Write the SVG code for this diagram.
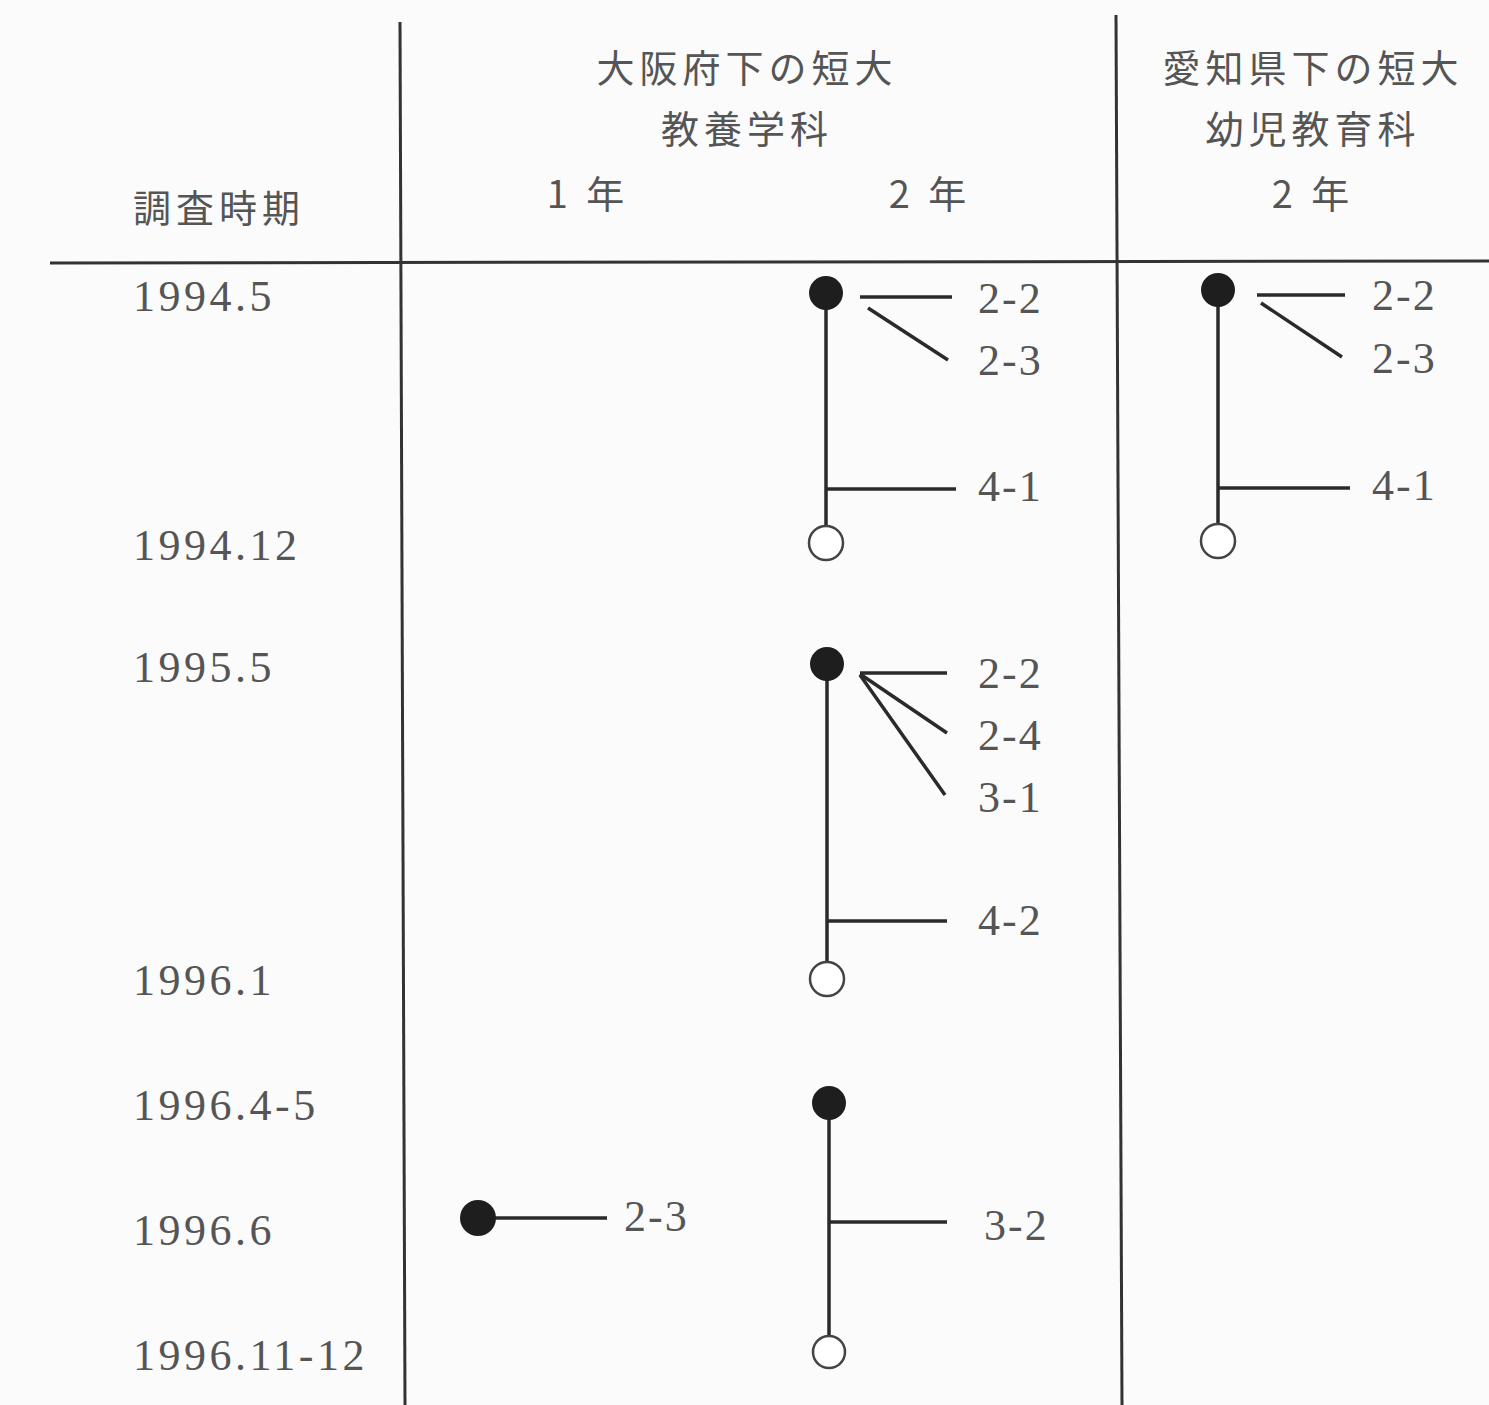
<svg xmlns="http://www.w3.org/2000/svg" width="1489" height="1405" viewBox="0 0 1489 1405">
<style>
.bg{fill:#fbfbfb}
.jp{font-family:"Noto Sans CJK JP","Liberation Serif",sans-serif;font-size:38px;fill:#555;letter-spacing:5px}
.num{font-family:"Liberation Serif","DejaVu Serif",serif;font-size:44px;fill:#555;letter-spacing:2px}
.dt{letter-spacing:3.5px}
.rule{stroke:#333;stroke-width:3;fill:none}
.ln{stroke:#2a2a2a;stroke-width:3.5;fill:none}
.on{fill:#1e1e1e}
.off{fill:#fff;stroke:#444;stroke-width:2.5}
</style>
<rect class="bg" x="0" y="0" width="1489" height="1405"/>
<g id="table">
<line class="rule" x1="50" y1="263" x2="1489" y2="261"/>
<line class="rule" x1="400" y1="22" x2="405" y2="1405"/>
<line class="rule" x1="1116" y1="15" x2="1122" y2="1405"/>
</g>
<g id="headers">
<text class="jp" x="747" y="82" text-anchor="middle">大阪府下の短大</text>
<text class="jp" x="747" y="143" text-anchor="middle">教養学科</text>
<text class="jp" x="588" y="208" text-anchor="middle">1 年</text>
<text class="jp" x="930" y="208" text-anchor="middle">2 年</text>
<text class="jp" x="133" y="222">調査時期</text>
<text class="jp" x="1313" y="82" text-anchor="middle">愛知県下の短大</text>
<text class="jp" x="1313" y="143" text-anchor="middle">幼児教育科</text>
<text class="jp" x="1313" y="208" text-anchor="middle">2 年</text>
</g>
<g id="dates">
<text class="num dt" x="133" y="311">1994.5</text>
<text class="num dt" x="133" y="560">1994.12</text>
<text class="num dt" x="133" y="682">1995.5</text>
<text class="num dt" x="133" y="995">1996.1</text>
<text class="num dt" x="133" y="1120">1996.4-5</text>
<text class="num dt" x="133" y="1245">1996.6</text>
<text class="num dt" x="133" y="1370">1996.11-12</text>
</g>
<g id="connectors">
<line class="ln" x1="826" y1="293" x2="826" y2="527"/>
<line class="ln" x1="860" y1="297" x2="952" y2="297"/>
<line class="ln" x1="868" y1="308" x2="948" y2="360"/>
<line class="ln" x1="826" y1="489" x2="956" y2="489"/>
<line class="ln" x1="1218" y1="290" x2="1218" y2="525"/>
<line class="ln" x1="1257" y1="295" x2="1345" y2="295"/>
<line class="ln" x1="1261" y1="303" x2="1342" y2="357"/>
<line class="ln" x1="1218" y1="488" x2="1350" y2="488"/>
<line class="ln" x1="827" y1="664" x2="827" y2="963"/>
<line class="ln" x1="860" y1="673" x2="947" y2="673"/>
<line class="ln" x1="860" y1="674" x2="947" y2="733"/>
<line class="ln" x1="860" y1="675" x2="945" y2="795"/>
<line class="ln" x1="827" y1="921" x2="947" y2="921"/>
<line class="ln" x1="829" y1="1103" x2="829" y2="1336"/>
<line class="ln" x1="829" y1="1222" x2="947" y2="1222"/>
<line class="ln" x1="478" y1="1218" x2="607" y2="1218"/>
</g>
<g id="osaka-1994">
<circle class="on" cx="826" cy="293" r="17"/>
<circle class="off" cx="826" cy="543" r="17"/>
<text class="num" x="978" y="313">2-2</text>
<text class="num" x="978" y="375">2-3</text>
<text class="num" x="978" y="501">4-1</text>
</g>
<g id="aichi-1994">
<circle class="on" cx="1218" cy="290" r="17"/>
<circle class="off" cx="1218" cy="541" r="17"/>
<text class="num" x="1372" y="310">2-2</text>
<text class="num" x="1372" y="373">2-3</text>
<text class="num" x="1372" y="500">4-1</text>
</g>
<g id="osaka-1995">
<circle class="on" cx="827" cy="664" r="17"/>
<circle class="off" cx="827" cy="979" r="17"/>
<text class="num" x="978" y="688">2-2</text>
<text class="num" x="978" y="750">2-4</text>
<text class="num" x="978" y="812">3-1</text>
<text class="num" x="978" y="935">4-2</text>
</g>
<g id="osaka-1996-2">
<circle class="on" cx="829" cy="1103" r="17"/>
<circle class="off" cx="829" cy="1352" r="16"/>
<text class="num" x="984" y="1240">3-2</text>
</g>
<g id="osaka-1996-1">
<circle class="on" cx="478" cy="1218" r="18"/>
<text class="num" x="624" y="1231">2-3</text>
</g>
</svg>
